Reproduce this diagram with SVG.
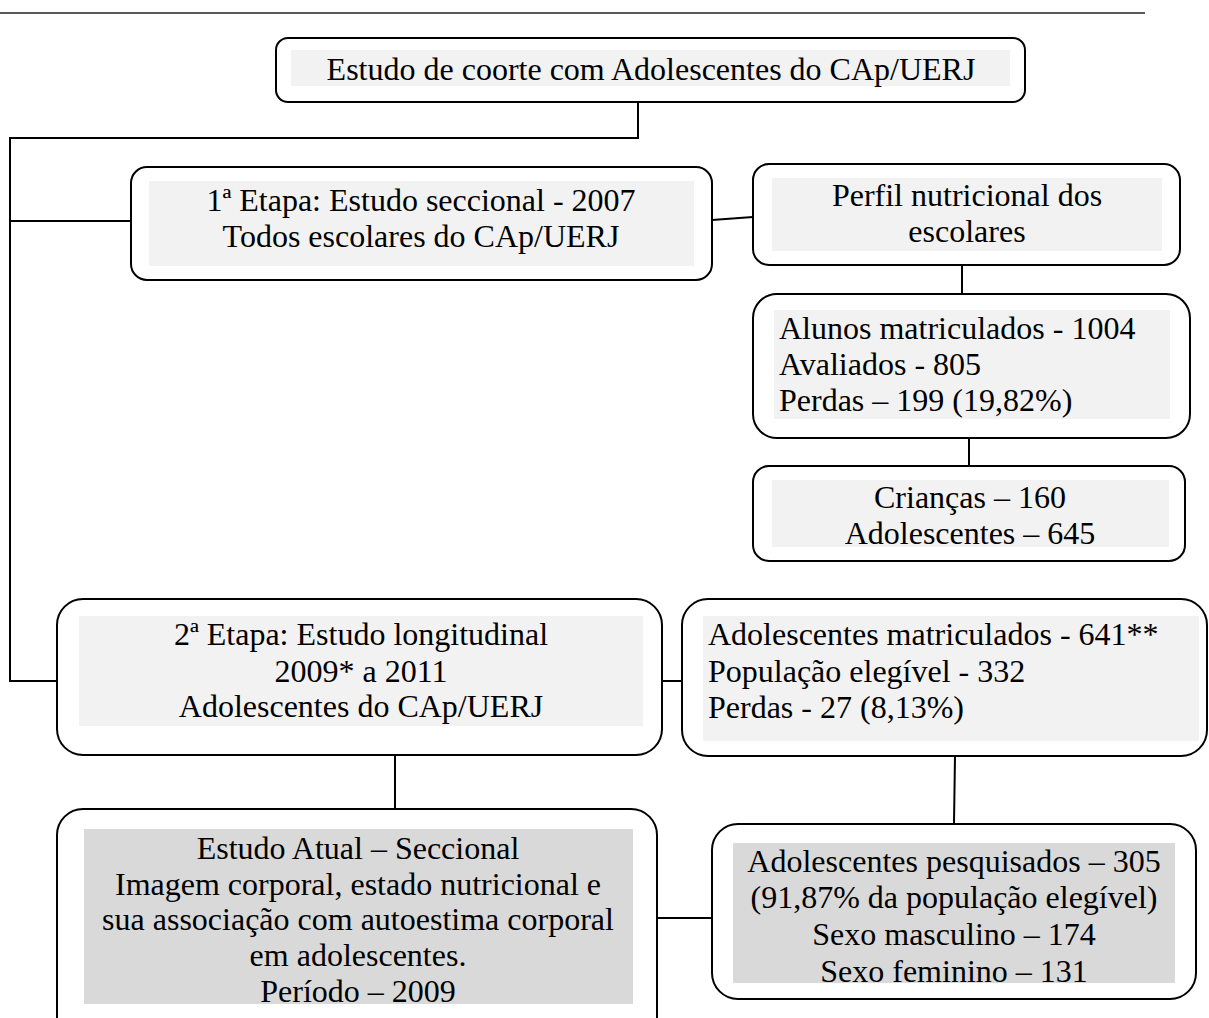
<svg xmlns="http://www.w3.org/2000/svg" width="1209" height="1018" viewBox="0 0 1209 1018">
<style>
.box{fill:#fff;stroke:#000;stroke-width:2}
.g1{fill:#f2f2f2}
.g2{fill:#d9d9d9}
.t{font-family:"Liberation Serif","Times New Roman",serif;font-size:32px;fill:#000}
.c{text-anchor:middle}
.conn{fill:none;stroke:#000;stroke-width:2}
</style>
<defs>
<clipPath id="clip8"><rect x="84" y="829" width="549" height="175"/></clipPath>
<clipPath id="clip9"><rect x="733" y="843" width="442" height="140"/></clipPath>
</defs>
<rect width="1209" height="1018" fill="#fff"/>
<line x1="0" y1="13" x2="1145" y2="13" stroke="#222" stroke-width="1.5"/>

<g id="connectors">
<path class="conn" d="M638,102 V138 H10 V681 H57"/>
<path class="conn" d="M10,221 H131"/>
<path class="conn" d="M712,220 L753,217"/>
<path class="conn" d="M962,265 V294"/>
<path class="conn" d="M969,438 V466"/>
<path class="conn" d="M662,681 H682"/>
<path class="conn" d="M395,755 V809"/>
<path class="conn" d="M955,756 L954,824"/>
<path class="conn" d="M655,918 H712"/>
</g>

<g id="node-coorte">
<rect class="box" x="276" y="38" width="749" height="64" rx="12"/>
<rect class="g1" x="291" y="50" width="719" height="36"/>
<text class="t c" x="651" y="80">Estudo de coorte com Adolescentes do CAp/UERJ</text>
</g>

<g id="node-etapa1">
<rect class="box" x="131" y="167" width="581" height="113" rx="16"/>
<rect class="g1" x="149" y="181" width="545" height="85"/>
<text class="t c" x="421" y="211">1ª Etapa: Estudo seccional - 2007</text>
<text class="t c" x="421" y="247">Todos escolares do CAp/UERJ</text>
</g>

<g id="node-perfil">
<rect class="box" x="753" y="164" width="427" height="101" rx="16"/>
<rect class="g1" x="772" y="178" width="390" height="73"/>
<text class="t c" x="967" y="206">Perfil nutricional dos</text>
<text class="t c" x="967" y="242">escolares</text>
</g>

<g id="node-alunos">
<rect class="box" x="753" y="294" width="437" height="144" rx="24"/>
<rect class="g1" x="774" y="310" width="396" height="109"/>
<text class="t" x="779" y="339">Alunos matriculados - 1004</text>
<text class="t" x="779" y="375">Avaliados - 805</text>
<text class="t" x="779" y="411">Perdas – 199 (19,82%)</text>
</g>

<g id="node-criancas">
<rect class="box" x="753" y="466" width="432" height="95" rx="16"/>
<rect class="g1" x="772" y="480" width="397" height="67"/>
<text class="t c" x="970" y="508">Crianças – 160</text>
<text class="t c" x="970" y="544">Adolescentes – 645</text>
</g>

<g id="node-etapa2">
<rect class="box" x="57" y="599" width="605" height="156" rx="26"/>
<rect class="g1" x="79" y="616" width="564" height="110"/>
<text class="t c" x="361" y="645">2ª Etapa: Estudo longitudinal</text>
<text class="t c" x="361" y="682">2009* a 2011</text>
<text class="t c" x="361" y="717">Adolescentes do CAp/UERJ</text>
</g>

<g id="node-matriculados">
<rect class="box" x="682" y="599" width="525" height="157" rx="26"/>
<rect class="g1" x="703" y="616" width="496" height="125"/>
<text class="t" x="708" y="645">Adolescentes matriculados - 641**</text>
<text class="t" x="708" y="682">População elegível - 332</text>
<text class="t" x="708" y="718">Perdas - 27 (8,13%)</text>
</g>

<g id="node-atual">
<rect class="box" x="57" y="809" width="600" height="240" rx="26"/>
<rect class="g2" x="84" y="829" width="549" height="175"/>
<g clip-path="url(#clip8)">
<text class="t c" x="358" y="859">Estudo Atual – Seccional</text>
<text class="t c" x="358" y="895"> Imagem corporal, estado nutricional e</text>
<text class="t c" x="358" y="930">sua associação com autoestima corporal</text>
<text class="t c" x="358" y="966">em adolescentes.</text>
<text class="t c" x="358" y="1002">Período – 2009</text>
</g>
</g>

<g id="node-pesquisados">
<rect class="box" x="712" y="824" width="484" height="175" rx="26"/>
<rect class="g2" x="733" y="843" width="442" height="140"/>
<g clip-path="url(#clip9)">
<text class="t c" x="954" y="872">Adolescentes pesquisados – 305</text>
<text class="t c" x="954" y="908">(91,87% da população elegível)</text>
<text class="t c" x="954" y="945">Sexo masculino – 174</text>
<text class="t c" x="954" y="982">Sexo feminino – 131</text>
</g>
</g>
</svg>
